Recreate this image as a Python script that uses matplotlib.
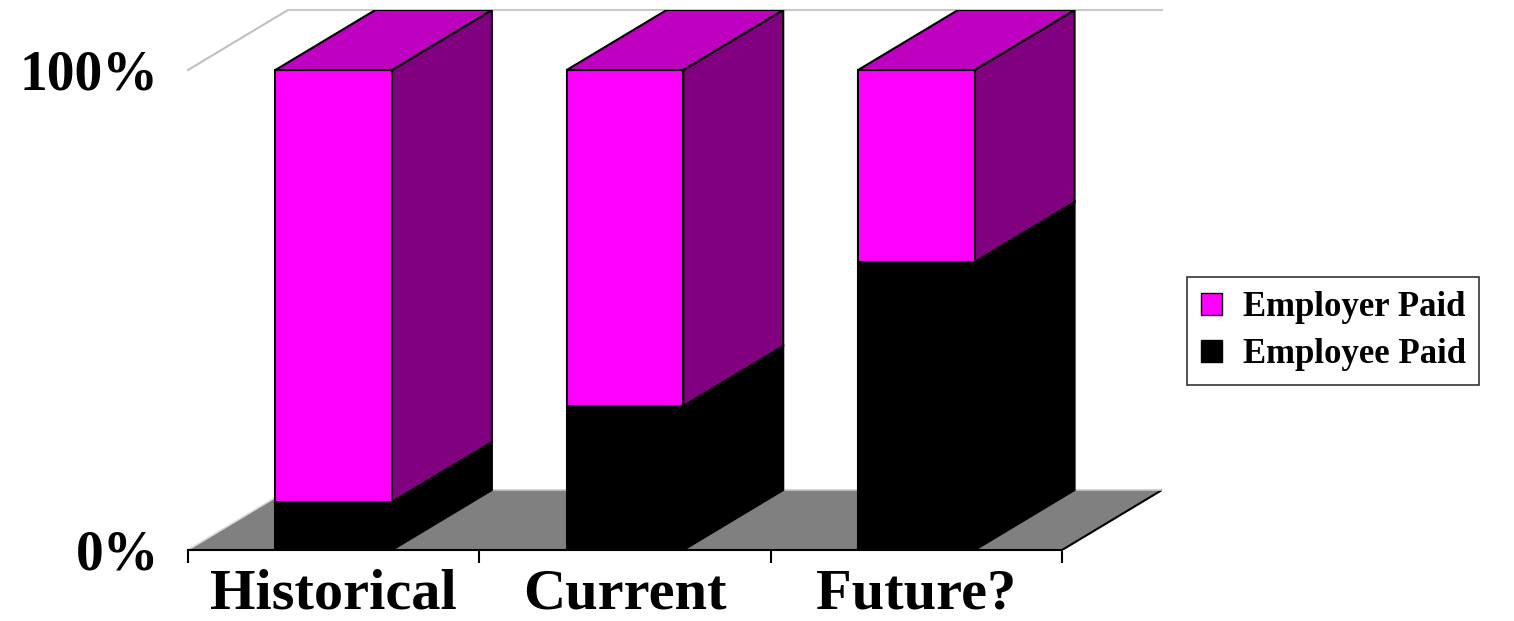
import matplotlib.pyplot as plt
from matplotlib.patches import Polygon

categories = ["Historical", "Current", "Future?"]
employee_paid = [10, 30, 60]
employer_paid = [90, 70, 40]

# colours: front, side, top
employer_cols = ("#FF00FF", "#800080", "#C000C0")
employee_cols = ("#000000", "#000000", "#000000")

n = len(categories)
dx = 0.343   # depth offset in category units
dy = 12.5    # depth offset in percent units
width = 0.4

plt.rcParams['font.family'] = ['Liberation Serif', 'DejaVu Serif']
plt.rcParams['font.weight'] = 'bold'

fig = plt.figure(figsize=(15.14, 6.21), dpi=100)
ax = fig.add_axes([188 / 1514, 71 / 621, 974 / 1514, 540 / 621])
ax.set_xlim(0, n + dx)
ax.set_ylim(0, 100 + dy)


def box(x0, y0, y1, cols):
    x1 = x0 + width
    front = Polygon([(x0, y0), (x1, y0), (x1, y1), (x0, y1)],
                    facecolor=cols[0], edgecolor='black', lw=1.5, zorder=3)
    side = Polygon([(x1, y0), (x1 + dx, y0 + dy), (x1 + dx, y1 + dy), (x1, y1)],
                   facecolor=cols[1], edgecolor='black', lw=1.5, zorder=3)
    top = Polygon([(x0, y1), (x1, y1), (x1 + dx, y1 + dy), (x0 + dx, y1 + dy)],
                  facecolor=cols[2], edgecolor='black', lw=1.5, zorder=3)
    for p in (side, front, top):
        ax.add_patch(p)


# floor
floor = Polygon([(0, 0), (n, 0), (n + dx, dy), (dx, dy)],
                facecolor='#808080', edgecolor='none', zorder=1)
ax.add_patch(floor)
ax.plot([n, n + dx], [0, dy], color='black', lw=1.5, zorder=2)
ax.plot([dx, n + dx], [dy, dy], color='#c8c8c8', lw=1.2, zorder=2)
ax.plot([0, dx], [0, dy], color='#d8d8d8', lw=1.2, zorder=2)

# back wall edges
ax.plot([0, dx], [100, 100 + dy], color='#c0c0c0', lw=1.5, clip_on=False)
ax.plot([dx, n + dx], [100 + dy, 100 + dy], color='#c8c8c8', lw=1.5, clip_on=False)

for i in range(n):
    x0 = i + 0.5 - width / 2
    box(x0, 0, employee_paid[i], employee_cols)
    box(x0, employee_paid[i], employee_paid[i] + employer_paid[i], employer_cols)

for s in ['top', 'right', 'left']:
    ax.spines[s].set_visible(False)
ax.spines['bottom'].set_bounds(0, n)
ax.spines['bottom'].set_linewidth(1.5)

ax.set_xticks(range(n + 1))
ax.set_xticklabels([])
ax.tick_params(axis='x', which='major', length=9, width=1.5, direction='out')
ax.set_xticks([i + 0.5 for i in range(n)], minor=True)
ax.set_xticklabels(categories, minor=True, fontsize=42, fontweight='bold')
ax.tick_params(axis='x', which='minor', length=0, pad=13)

ax.set_yticks([0, 100])
ax.set_yticklabels(["0%", "100%"], fontsize=40, fontweight='bold')
ax.tick_params(axis='y', length=0, pad=21)

handles = [Polygon([(0, 0)], facecolor=employer_cols[0], edgecolor='black', lw=1),
           Polygon([(0, 0)], facecolor='black', edgecolor='black', lw=1)]
leg = fig.legend(handles, ["Employer Paid", "Employee Paid"],
                 loc='upper left', bbox_to_anchor=(1187 / 1514, 1 - 277 / 621),
                 borderaxespad=0, fancybox=False, edgecolor='black',
                 prop={'size': 25, 'weight': 'bold'},
                 handlelength=0.6, handleheight=0.6, handletextpad=0.6,
                 labelspacing=0.4, borderpad=0.4)
leg.get_frame().set_linewidth(1.2)

fig.savefig("out.png", dpi=100)
